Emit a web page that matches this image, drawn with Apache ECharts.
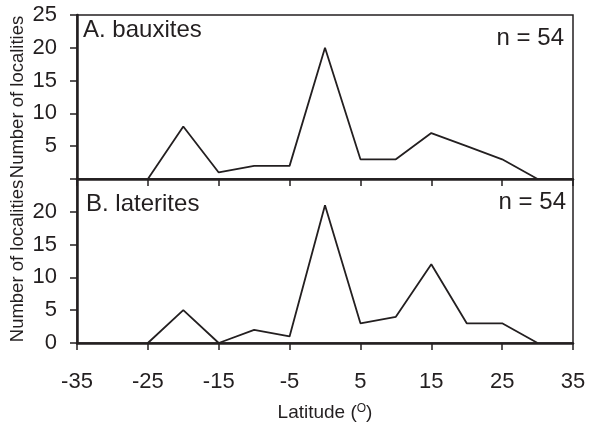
<!DOCTYPE html>
<html>
<head>
<meta charset="utf-8">
<script src="https://cdn.jsdelivr.net/npm/echarts@6/dist/echarts.min.js"></script>
<style>
html,body{margin:0;padding:0;background:#fff;}
#chart{width:589px;height:424px;}
</style>
</head>
<body>
<div id="chart"></div>
<script>
// Latitude bins (degrees) and locality counts per bin
const latitudes = [-25, -20, -15, -10, -5, 0, 5, 10, 15, 20, 25, 30];
const bauxites  = [0, 8, 1, 2, 2, 20, 3, 3, 7, 5, 3, 0];
const laterites = [0, 5, 0, 2, 1, 21, 3, 4, 12, 3, 3, 0];
const xTicks = [-35, -25, -15, -5, 5, 15, 25, 35];
const panelTitles = ['A. bauxites', 'B. laterites'];
const countLabel = 'n = 54';

const FONT = 'Liberation Sans, Arial, Helvetica, sans-serif';
const INK = '#231f20';

const pairs = arr => latitudes.map((x, i) => [x, arr[i]]);

const chart = echarts.init(document.getElementById('chart'), null, {renderer: 'canvas'});

const gridLeft = 77, gridRight = 16, gridH = 164;

function xAxis(idx, showLabels) {
  return {
    type: 'value', gridIndex: idx, min: xTicks[0], max: xTicks[xTicks.length - 1], interval: 10,
    axisLine: {show: true, onZero: false, lineStyle: {color: INK, width: 2.5}},
    axisTick: {show: true, inside: false, length: 7, lineStyle: {color: INK, width: 1.5}},
    axisLabel: {show: showLabels, color: INK, fontFamily: FONT, fontSize: 22, margin: 28, hideOverlap: false},
    splitLine: {show: false},
    name: showLabels ? 'Latitude ({s|O})' : '',
    nameLocation: 'middle', nameGap: 60, nameMoveOverlap: false,
    nameTextStyle: {
      color: INK, fontFamily: FONT, fontSize: 19,
      rich: {s: {fontSize: 12, fontFamily: FONT, color: INK, verticalAlign: 'top', padding: [0, 0, 8, 0]}}
    }
  };
}

function yAxis(idx, hideVal) {
  return {
    type: 'value', gridIndex: idx, min: 0, max: 25, interval: 5,
    axisLine: {show: true, onZero: false, lineStyle: {color: INK, width: 2.5}},
    axisTick: {show: true, inside: false, length: 7, lineStyle: {color: INK, width: 1.5}},
    axisLabel: {
      color: INK, fontFamily: FONT, fontSize: 22, margin: 20,
      formatter: v => (v === hideVal ? '' : String(v))
    },
    splitLine: {show: false},
    name: 'Number of localities', nameLocation: 'middle', nameGap: 50, nameMoveOverlap: false,
    nameTextStyle: {color: INK, fontFamily: FONT, fontSize: 18.5}
  };
}

const lineStyle = {color: INK, width: 1.8};

const gridBase = {
  left: gridLeft, right: gridRight, height: gridH, show: true,
  borderColor: INK, borderWidth: 1.5, containLabel: false, outerBoundsMode: 'none'
};

chart.setOption({
  animation: false,
  backgroundColor: '#fff',
  grid: [
    Object.assign({top: 15}, gridBase),
    Object.assign({top: 15 + gridH}, gridBase)
  ],
  xAxis: [xAxis(0, false), xAxis(1, true)],
  yAxis: [yAxis(0, 0), yAxis(1, 25)],
  series: [
    {type: 'line', xAxisIndex: 0, yAxisIndex: 0, data: pairs(bauxites), symbol: 'none', lineStyle},
    {type: 'line', xAxisIndex: 1, yAxisIndex: 1, data: pairs(laterites), symbol: 'none', lineStyle}
  ],
  graphic: [
    {type: 'text', left: 83, top: 18, style: {text: panelTitles[0], fill: INK, font: '24px ' + FONT}},
    {type: 'text', right: 25, top: 26, style: {text: countLabel, fill: INK, font: '24px ' + FONT}},
    {type: 'text', left: 86, top: 192, style: {text: panelTitles[1], fill: INK, font: '24px ' + FONT}},
    {type: 'text', right: 23, top: 190, style: {text: countLabel, fill: INK, font: '24px ' + FONT}}
  ]
});
</script>
</body>
</html>
